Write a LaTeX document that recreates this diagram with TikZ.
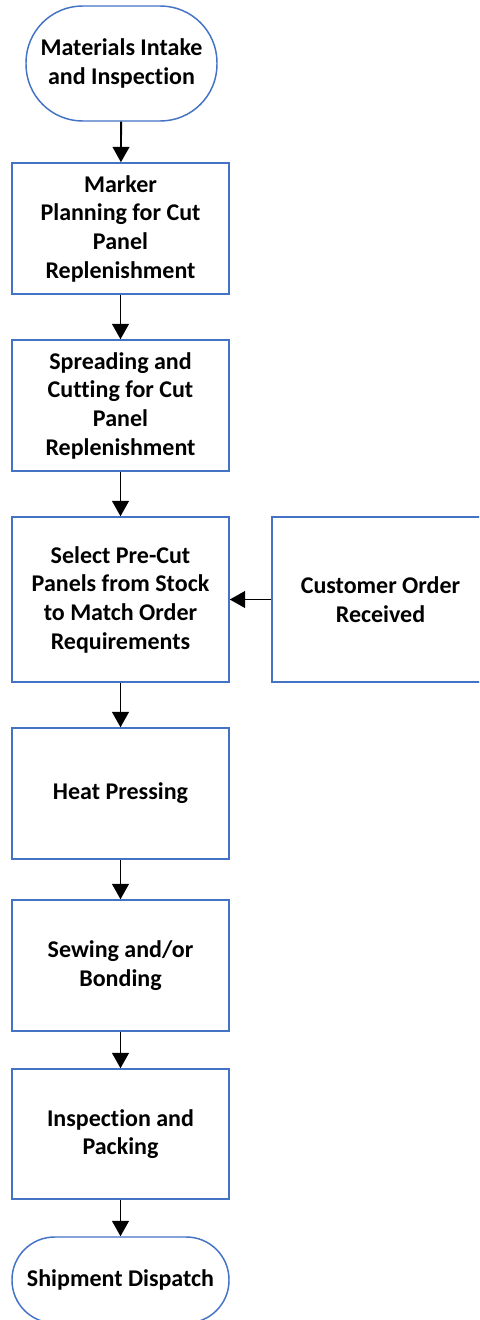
\documentclass[tikz,border=0pt]{standalone}
\usepackage{fontspec}
\setmainfont{Carlito}[Ligatures=NoCommon]
\usetikzlibrary{arrows.meta}
\definecolor{boxblue}{HTML}{4472C4}
\begin{document}
\begin{tikzpicture}[x=0.75pt,y=-0.75pt,
  every node/.style={font=\fontsize{18}{21.5}\selectfont\bfseries, align=center, text=black, inner sep=0pt},
  procbox/.style={draw=boxblue, line width=1.1pt, fill=white, minimum width=162.75pt, minimum height=#1},
  termbox/.style={draw=boxblue, line width=1.1pt, fill=white, rounded corners=#1},
  arr/.style={draw=black, line width=1.4pt, -{Triangle[width=12.5pt,length=11.5pt]}}
]
\useasboundingbox (0,0) rectangle (479,1320);
\clip (0,0) rectangle (479,1320);
\fill[white] (0,0) rectangle (479,1320);

\node[termbox=42.5pt, minimum width=143.25pt, minimum height=86.25pt] (start) at (121.5,63.5) {Materials Intake\\and Inspection};
\node[procbox=98.25pt] (r1) at (120.5,228.5) {Marker\\Planning for Cut\\Panel\\Replenishment};
\node[procbox=98.25pt] (r2) at (120.5,405.5) {Spreading and\\Cutting for Cut\\Panel\\Replenishment};
\node[procbox=123.75pt] (r3) at (120.5,599.5) {Select Pre-Cut\\Panels from Stock\\to Match Order\\Requirements};
\node[procbox=123.75pt] (cust) at (380.5,599.5) {Customer Order\\Received};
\node[procbox=98.25pt] (r4) at (120.5,793.5) {Heat Pressing};
\node[procbox=98.25pt] (r5) at (120.5,965.5) {Sewing and/or\\Bonding};
\node[procbox=97.5pt] (r6) at (120.5,1134) {Inspection and\\Packing};
\node[termbox=32pt, minimum width=162.75pt, minimum height=64.5pt] (end) at (120.5,1280) {Shipment Dispatch};

\draw[arr] (start) -- (r1);
\draw[arr] (r1) -- (r2);
\draw[arr] (r2) -- (r3);
\draw[arr] (cust) -- (r3);
\draw[arr] (r3) -- (r4);
\draw[arr] (r4) -- (r5);
\draw[arr] (r5) -- (r6);
\draw[arr] (r6) -- (end);
\end{tikzpicture}
\end{document}
